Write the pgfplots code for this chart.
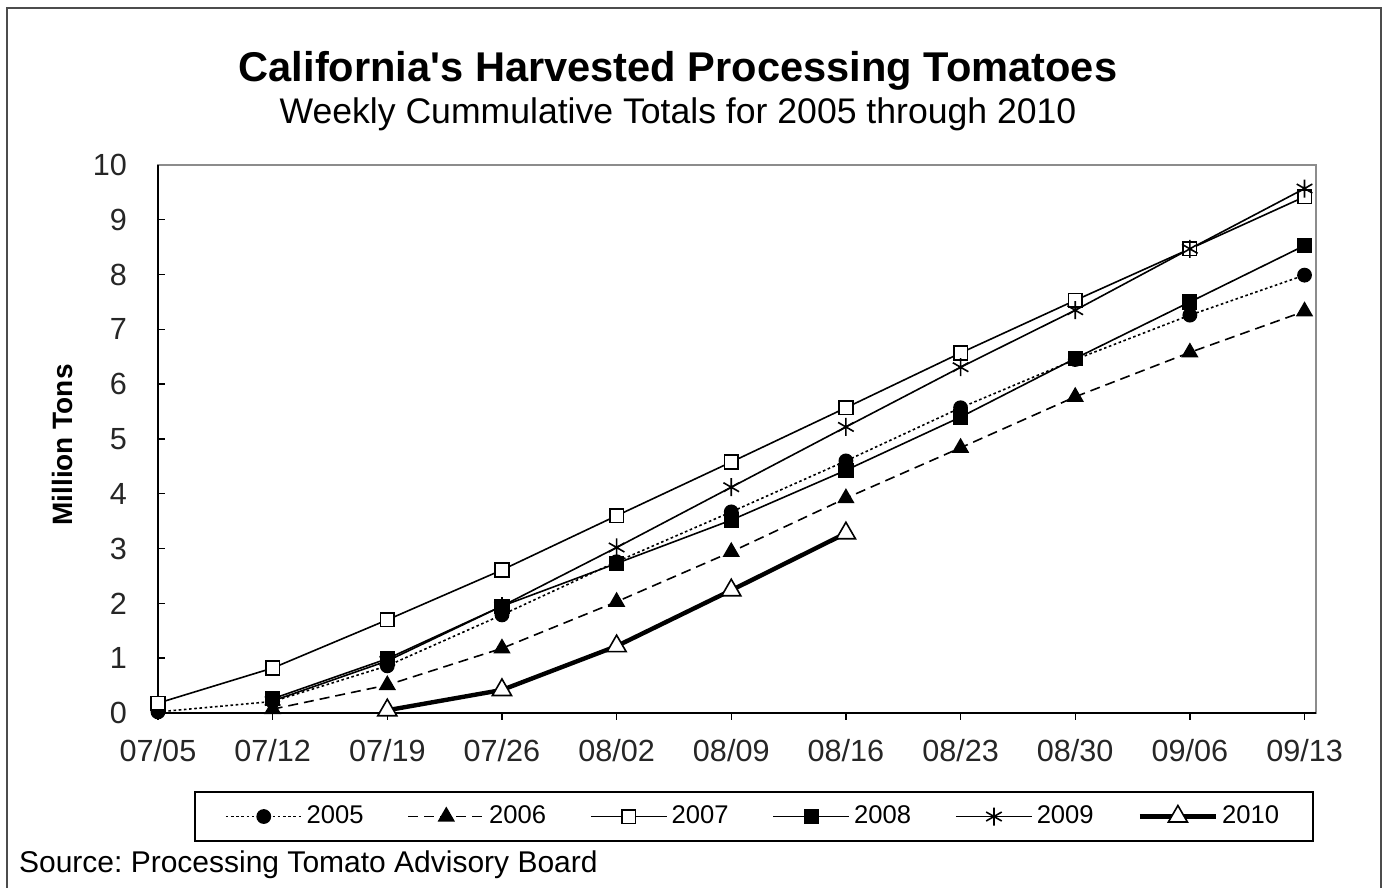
\documentclass[border=0pt]{standalone}
\usepackage{pgfplots}
\pgfplotsset{compat=1.18}
\usepackage{fontspec}
\setmainfont{Liberation Sans}

\begin{document}
\frenchspacing
\begin{tikzpicture}
\useasboundingbox (-79pt,-87.5pt) rectangle (615.5pt,356.5pt);
\fill[white] (-79pt,-87.5pt) rectangle (615.5pt,356.5pt);
\draw[black!70, line width=0.8pt] (-75.5pt,-95pt) rectangle (611.5pt,352.5pt);

\begin{axis}[
    at={(0,0)}, anchor=south west,
    scale only axis,
    width=579pt, height=274pt,
    xmin=0, xmax=10.1,
    ymin=0, ymax=10,
    xtick={0,...,10},
    xticklabels={07/05,07/12,07/19,07/26,08/02,08/09,08/16,08/23,08/30,09/06,09/13},
    ytick={0,...,10},
    xtick pos=bottom, ytick pos=left,
    xtick align=outside, ytick align=inside,
    major tick length=3.5pt,
    tick style={black, line width=0.7pt},
    axis line style={black!45, line width=0.7pt},
    ticklabel style={font=\fontsize{15.3}{17}\selectfont, text=black!85},
    /pgf/number format/assume math mode=true,
    xticklabel style={yshift=-6pt},
    yticklabel style={xshift=-12pt},
    legend columns=6,
    legend style={
        at={(0.5147,-0.1889)}, anchor=center,
        draw=black, line width=0.7pt,
        font=\fontsize{12.8}{15}\selectfont,
        inner xsep=15pt, inner ysep=5pt,
        /tikz/every even column/.append style={column sep=20pt},
    },
    legend image code/.code={
        \draw[mark repeat=2, mark phase=2] plot coordinates {(0pt,0pt) (19pt,0pt) (38pt,0pt)};
    },
    clip=false,
]
\addplot[black, line width=0.8pt, dash pattern=on 1.3pt off 1.3pt, mark=*, mark size=3.3pt, mark options={solid, fill=black}]
    coordinates {(0,0.02)(1,0.21)(2,0.86)(3,1.79)(4,2.76)(5,3.67)(6,4.6)(7,5.57)(8,6.45)(9,7.26)(10,7.99)};
\addlegendentry{2005}
\addplot[black, line width=0.8pt, dash pattern=on 5pt off 3pt, mark=triangle*, mark size=4.2pt, mark options={solid, fill=black}]
    coordinates {(1,0.07)(2,0.51)(3,1.18)(4,2.03)(5,2.94)(6,3.92)(7,4.84)(8,5.77)(9,6.58)(10,7.33)};
\addlegendentry{2006}
\addplot[black, line width=0.8pt, mark=square*, mark size=3.4pt, mark options={solid, fill=white}]
    coordinates {(0,0.18)(1,0.82)(2,1.7)(3,2.61)(4,3.6)(5,4.58)(6,5.57)(7,6.57)(8,7.53)(9,8.47)(10,9.42)};
\addlegendentry{2007}
\addplot[black, line width=0.8pt, mark=square*, mark size=3.4pt, mark options={solid, fill=black}]
    coordinates {(1,0.26)(2,0.99)(3,1.95)(4,2.73)(5,3.52)(6,4.43)(7,5.4)(8,6.47)(9,7.5)(10,8.53)};
\addlegendentry{2008}
\addplot[black, line width=0.8pt, mark=asterisk, mark size=4.5pt, mark options={solid, line width=0.8pt}]
    coordinates {(1,0.22)(2,0.95)(3,1.95)(4,3.02)(5,4.12)(6,5.22)(7,6.31)(8,7.35)(9,8.47)(10,9.57)};
\addlegendentry{2009}
\addplot[black, line width=2.2pt, mark=triangle*, mark size=5.5pt, mark options={solid, fill=white, line width=0.8pt}]
    coordinates {(2,0.05)(3,0.42)(4,1.22)(5,2.24)(6,3.28)};
\addlegendentry{2010}
\draw[black, line width=0.9pt] (rel axis cs:0,1) -- (rel axis cs:0,0) -- (rel axis cs:1,0);
\end{axis}

\node[font=\fontsize{20.8}{24}\selectfont\bfseries, anchor=base] at (260pt,315.5pt) {California\textquotesingle s Harvested Processing Tomatoes};
\node[font=\fontsize{17.8}{20}\selectfont, anchor=base] at (260pt,294.5pt) {Weekly Cummulative Totals for 2005 through 2010};
\node[font=\fontsize{14}{16}\selectfont\bfseries, rotate=90] at (-48pt,134pt) {Million Tons};
\node[font=\fontsize{15}{16}\selectfont, anchor=base west] at (-73pt,-80pt) {Source: Processing Tomato Advisory Board};
\end{tikzpicture}
\end{document}
